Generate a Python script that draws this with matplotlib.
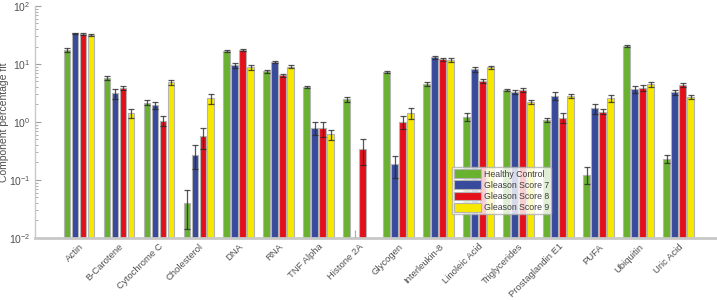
from matplotlib import pyplot as plt
import numpy as np

categories = ['Actin', 'B-Carotene', 'Cytochrome C', 'Cholesterol', 'DNA', 'RNA',
              'TNF Alpha', 'Histone 2A', 'Glycogen', 'Interleukin-8', 'Linoleic Acid',
              'Triglycerides', 'Prostaglandin E1', 'PUFA', 'Ubiquitin', 'Uric Acid']
series = ['Healthy Control', 'Gleason Score 7', 'Gleason Score 8', 'Gleason Score 9']

healthy = [17.6, 5.8, 2.15, 0.040, 16.9, 7.5, 4.0, 2.45, 7.3, 4.6, 1.22, 3.55, 1.08, 0.124, 20.4, 0.234]
gs7 = [33.8, 3.1, 1.95, 0.274, 9.5, 10.8, 0.79, np.nan, 0.185, 13.0, 8.1, 3.3, 2.82, 1.71, 3.64, 3.23]
gs8 = [33.0, 3.85, 1.05, 0.57, 17.4, 6.4, 0.78, 0.34, 1.0, 12.0, 5.1, 3.55, 1.18, 1.5, 3.88, 4.33]
gs9 = [31.8, 1.42, 4.8, 2.55, 8.8, 9.0, 0.61, np.nan, 1.44, 11.8, 8.7, 2.22, 2.78, 2.6, 4.44, 2.72]

healthy_err = [1.2, 0.5, 0.2, 0.026, 0.5, 0.4, 0.15, 0.22, 0.4, 0.35, 0.2, 0.15, 0.1, 0.04, 0.5, 0.04]
gs7_err = [1.0, 0.6, 0.25, 0.12, 0.9, 0.4, 0.2, np.nan, 0.075, 0.8, 0.7, 0.3, 0.45, 0.35, 0.5, 0.35]
gs8_err = [1.0, 0.35, 0.2, 0.23, 0.6, 0.4, 0.22, 0.16, 0.25, 0.6, 0.35, 0.3, 0.22, 0.15, 0.4, 0.3]
gs9_err = [1.2, 0.25, 0.45, 0.5, 0.8, 0.6, 0.12, np.nan, 0.3, 0.8, 0.6, 0.2, 0.2, 0.35, 0.5, 0.2]

histone_gs7_upper = 0.0135

colors = ['#69b22f', '#374a9b', '#e3101b', '#f7e800']

plt.rcParams['font.family'] = 'Liberation Sans'
fig = plt.figure(figsize=(7.17, 3.0), dpi=100)
ax = fig.add_axes([0.049, 0.207, 0.951, 0.773])
ax.set_yscale('log')

x = np.arange(len(categories))
width = 0.16
offsets = [-0.3, -0.1, 0.1, 0.3]
values = [healthy, gs7, gs8, gs9]
errors = [healthy_err, gs7_err, gs8_err, gs9_err]

for vals, errs, off, col, lab in zip(values, errors, offsets, colors, series):
    vals = np.asarray(vals, dtype=float)
    ax.bar(x + off, np.nan_to_num(vals), width, color=col, edgecolor='#b4b4b4',
           linewidth=0.8, label=lab, zorder=2)
    ax.errorbar(x + off, vals, yerr=errs, fmt='none', ecolor='#2a2a2a',
                elinewidth=0.9, capsize=2.2, capthick=0.9, alpha=0.8, zorder=3)

ax.vlines(x[7] + offsets[1], 0.01, histone_gs7_upper, color='#b0b0b0', lw=0.9, zorder=3)

ax.set_ylim(0.01, 100)
ax.set_xlim(-1.09, 15.96)
ax.set_xticks(x)
ax.set_xticklabels(categories, rotation=45, ha='right', rotation_mode='anchor',
                   fontsize=6.8, color='#505050')
ax.tick_params(axis='x', length=0, pad=3)
ax.tick_params(axis='y', which='both', direction='in', colors='#a0a0a0',
               labelcolor='#505050', labelsize=7.5)
ax.tick_params(axis='y', which='major', length=4)
ax.tick_params(axis='y', which='minor', length=2.5)
ax.set_ylabel('Component percentage fit', fontsize=7.5, color='#505050')
ax.yaxis.set_label_coords(-0.039, 0.5)

for s in ['top', 'right']:
    ax.spines[s].set_visible(False)
ax.spines['left'].set_color('#c8c8c8')
ax.spines['bottom'].set_color('#c8c8c8')
ax.spines['bottom'].set_linewidth(2)
ax.spines['left'].set_linewidth(1)

leg = ax.legend(loc='upper left', bbox_to_anchor=(0.611, 0.306), fontsize=6.3,
                frameon=True, fancybox=False, edgecolor='#b0b0b0',
                handlelength=3.1, handleheight=1.2, handletextpad=0.3,
                labelspacing=0.2, borderpad=0.25, borderaxespad=0)
for t in leg.get_texts():
    t.set_color('#404040')

fig.savefig('out.png', dpi=100)
